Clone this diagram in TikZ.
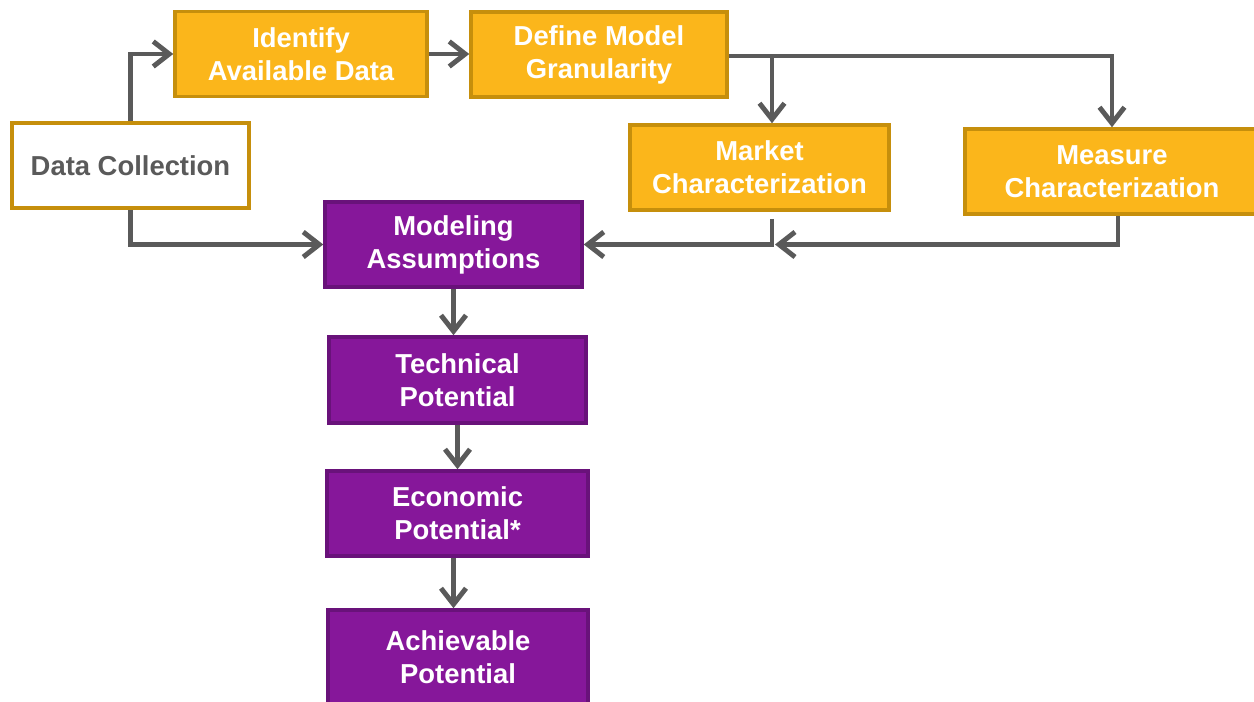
\documentclass[tikz,border=0pt]{standalone}
\usepackage{fontspec}
\setmainfont{Liberation Sans}
\usepackage{tikz}
\usetikzlibrary{arrows.meta}

\definecolor{gold}{HTML}{FBB61B}
\definecolor{golddark}{HTML}{C68F0C}
\definecolor{plum}{HTML}{86179A}
\definecolor{plumdark}{HTML}{69127A}
\definecolor{arrowgray}{HTML}{5A5A5A}

\begin{document}
\begin{tikzpicture}[
	box/.style={shape=rectangle, line width=2pt, align=center, minimum height=1.7cm,
		font=\bfseries\fontsize{15.6}{18.8}\selectfont},
	input/.style={box, draw=golddark, fill=white, text=arrowgray},
	prep/.style={box, draw=golddark, fill=gold, text=white},
	model/.style={box, draw=plumdark, fill=plum, text=white},
	flow/.style={draw=arrowgray, line width=2.8pt,
		-{Straight Barb[length=0.32cm, width=0.5cm]}}
	]
	\useasboundingbox (0,0) rectangle (25.08,-14.04);
	
	\node[input, minimum width=4.74cm] (datacol) at (2.61, -3.31) {Data Collection};
	\node[prep, minimum width=5.04cm] (identify) at (6.02, -1.08) {Identify\\Available Data};
	\node[prep, minimum width=5.12cm] (define) at (11.98, -1.09) {Define Model\\Granularity};
	\node[prep, minimum width=5.18cm] (market) at (15.19, -3.35) {Market\\Characterization};
	\node[prep, minimum width=5.88cm] (measure) at (22.24, -3.43) {Measure\\Characterization};
	\node[model, minimum width=5.14cm] (modeling) at (9.07, -4.89) {Modeling\\Assumptions};
	\node[model, minimum width=5.14cm, minimum height=1.72cm] (technical) at (9.15, -7.60) {Technical\\Potential};
	\node[model, minimum width=5.22cm] (economic) at (9.15, -10.27) {Economic\\Potential*};
	\node[model, minimum width=5.20cm, minimum height=1.9cm] (achievable) at (9.16, -13.15) {Achievable\\Potential};
	
	\coordinate (split) at (15.44, -1.12);
	\coordinate (merge) at (15.50, -4.89);
	
	\draw[flow] (datacol.north) |- (identify.west);
	\draw[flow] (datacol.south) |- (modeling.west);
	\draw[flow] (identify.east) -- (identify.east -| define.west);
	\draw[flow] (define.east |- split) -| (measure.north);
	\draw[flow] (split) -- (split |- market.north);
	\draw[flow] ([yshift=-0.14cm]split |- market.south) |- (modeling.east);
	\draw[flow] ([xshift=0.12cm]measure.south) |- (merge);
	\draw[flow] (modeling.south) -- (modeling.south |- technical.north);
	\draw[flow] (technical.south) -- (technical.south |- economic.north);
	\draw[flow] (economic.south -| modeling.south) -- (modeling.south |- achievable.north);
	
\end{tikzpicture}
\end{document}
